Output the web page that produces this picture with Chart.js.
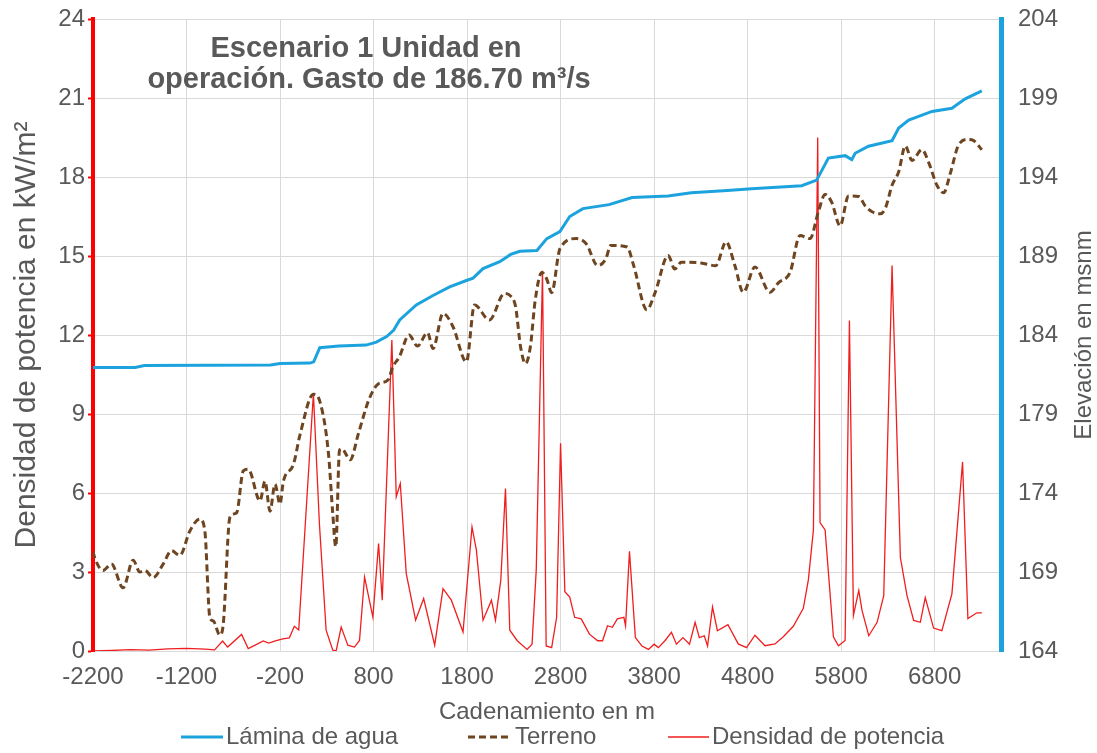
<!DOCTYPE html>
<html>
<head>
<meta charset="utf-8">
<script src="https://cdn.jsdelivr.net/npm/chart.js@4.4.1/dist/chart.umd.min.js"></script>
<style>
html,body{margin:0;padding:0;background:#ffffff;}
#wrap{width:1097px;height:753px;position:relative;}
</style>
</head>
<body>
<div id="wrap"><canvas id="c" width="1097" height="753"></canvas></div>
<script>
// ---- chart texts ----
const titleLines = ['Escenario 1 Unidad en', 'operación. Gasto de 186.70 m³/s'];
const xTitle = 'Cadenamiento en m';
const yLeftTitle = 'Densidad de potencia en kW/m²';
const yRightTitle = 'Elevación en msnm';
const seriesNames = ['Lámina de agua', 'Terreno', 'Densidad de potencia'];

// ---- tick labels ----
const xTicks = [-2200, -1200, -200, 800, 1800, 2800, 3800, 4800, 5800, 6800];
const leftTicks = [0, 3, 6, 9, 12, 15, 18, 21, 24];
const rightTicks = [164, 169, 174, 179, 184, 189, 194, 199, 204];

// ---- Lámina de agua (msnm, right axis) ----
const laminaX = [-2200,-1750,-1650,-300,-200,120,160,225,430,720,830,940,1014,1080,1257,1436,1614,1793,1864,1971,2150,2267,2364,2547,2653,2793,2898,3039,3319,3565,3951,4197,4583,4843,5379,5539,5664,5843,5914,5950,6093,6345,6416,6523,6772,6985,7127,7305];
const laminaY = [181.95,181.95,182.07,182.1,182.2,182.22,182.3,183.2,183.3,183.36,183.55,183.9,184.3,184.95,185.9,186.5,187.05,187.45,187.6,188.2,188.64,189.1,189.3,189.35,190.1,190.55,191.5,192.0,192.25,192.7,192.8,193.0,193.15,193.25,193.45,193.8,195.2,195.35,195.1,195.5,195.95,196.3,197.1,197.6,198.15,198.35,198.95,199.45];

// ---- Terreno (msnm, right axis) ----
const terrenoX = [-2200,-2182,-2093,-2003,-1878,-1771,-1700,-1646,-1557,-1450,-1361,-1271,-1164,-1057,-1004,-950,-914,-843,-807,-736,-664,-593,-539,-414,-361,-307,-254,-200,-164,-57,14,157,228,318,364,396,436,461,550,640,750,850,954,1007,1075,1180,1270,1377,1436,1543,1650,1793,1880,2040,2200,2267,2319,2372,2425,2477,2530,2600,2653,2705,2793,2968,3074,3197,3284,3337,3512,3582,3723,3811,3951,4021,4091,4302,4460,4570,4664,4754,4879,5039,5129,5254,5361,5468,5557,5629,5700,5789,5879,5989,6060,6131,6220,6274,6345,6416,6487,6558,6665,6736,6825,6896,6967,7056,7163,7216,7305];
const terrenoY = [170.3,169.9,169.1,169.5,168.0,169.75,169.0,169.1,168.65,169.5,170.35,170.05,171.6,172.35,171.6,166.1,165.9,165.0,165.7,172.45,172.75,175.4,175.5,173.5,174.75,172.85,174.55,173.3,174.75,175.8,177.7,180.25,179.75,176.5,172.7,170.6,176.7,176.8,176.1,177.8,179.9,180.9,181.15,182.0,182.6,184.0,183.3,184.15,183.15,185.37,184.52,182.3,185.9,184.95,186.63,186.46,185.8,183.26,182.19,183.26,186.25,187.96,187.53,186.68,189.46,190.1,189.78,188.39,188.82,189.67,189.57,188.39,185.6,186.68,189.03,188.18,188.6,188.56,188.39,189.9,188.4,186.7,188.3,186.7,187.3,187.96,190.3,190.1,191.8,192.9,192.4,190.9,192.8,192.76,192.15,191.8,191.67,192.03,193.48,194.33,195.97,195.05,195.73,194.93,193.48,193.0,194.21,196.02,196.38,196.31,195.73];

// ---- Densidad de potencia (kW/m², left axis) ----
const densidadX = [-2200,-2000,-1800,-1600,-1400,-1200,-1000,-900,-814,-760,-611,-540,-450,-380,-320,-250,-170,-100,-47,0,157,221,293,364,400,454,525,596,650,704,793,854,893,996,1043,1086,1150,1250,1336,1454,1543,1632,1757,1853,1900,1971,2061,2104,2161,2211,2257,2337,2442,2495,2540,2607,2646,2705,2758,2800,2846,2898,2951,3021,3109,3197,3249,3302,3354,3407,3477,3495,3537,3600,3670,3740,3800,3846,3916,3986,4039,4109,4179,4239,4284,4337,4372,4425,4477,4590,4700,4789,4879,4986,5093,5182,5289,5396,5450,5504,5550,5575,5629,5718,5771,5843,5889,5932,5989,6025,6096,6185,6256,6345,6434,6505,6576,6647,6700,6789,6878,6985,7099,7156,7252,7305];
const densidadY = [0,0.02,0.05,0.03,0.08,0.1,0.07,0.04,0.38,0.15,0.63,0.09,0.25,0.38,0.3,0.38,0.46,0.5,0.94,0.8,9.78,4.84,0.79,0.03,0.0,0.91,0.22,0.15,0.4,2.81,1.29,4.08,1.93,11.81,5.86,6.36,2.94,1.17,1.99,0.22,2.37,1.93,0.72,4.71,3.83,1.17,1.93,1.17,2.69,6.17,0.79,0.39,0.06,0.26,3.08,14.44,0.19,0.13,1.28,7.89,2.25,2.05,1.28,1.22,0.64,0.39,0.39,0.96,0.9,1.22,1.28,0.96,3.79,0.51,0.19,0.06,0.26,0.13,0.39,0.71,0.26,0.51,0.26,1.09,0.51,0.58,0.19,1.67,0.77,1.0,0.27,0.13,0.6,0.2,0.27,0.54,0.94,1.62,2.7,4.6,19.5,4.88,4.6,0.54,0.2,0.4,12.55,1.35,2.3,1.52,0.58,1.09,2.1,14.64,3.55,2.1,1.16,1.09,2.03,0.87,0.77,2.17,7.18,1.23,1.45,1.45];

// ---- styles ----
const TXT = '#595959';
const GRID = '#d9d9d9';
const BLUE = '#1ca3de';
const BROWN = '#6e4520';
const RED = '#f01e1e';
const AXRED = '#ff0000';
const FONT = '"Liberation Sans", Arial, sans-serif';

const toPts = (xs, ys) => xs.map((x, i) => ({x: x, y: ys[i]}));

const overlay = {
  id: 'overlay',
  afterDraw(chart) {
    const ctx = chart.ctx;
    const a = chart.chartArea;
    ctx.save();
    ctx.fillStyle = TXT;
    // chart title inside plot
    ctx.textAlign = 'center';
    ctx.textBaseline = 'alphabetic';
    ctx.font = 'bold 29px ' + FONT;
    ctx.fillText(titleLines[0], 366, 57);
    ctx.fillText(titleLines[1], 369, 88);
    // x axis title
    ctx.textBaseline = 'middle';
    ctx.font = '24px ' + FONT;
    ctx.fillText(xTitle, (a.left + a.right) / 2, 712);
    // left title
    ctx.save();
    ctx.translate(27, (a.top + a.bottom) / 2);
    ctx.rotate(-Math.PI / 2);
    ctx.font = '30px ' + FONT;
    ctx.fillText(yLeftTitle, 0, 0);
    ctx.restore();
    // right title
    ctx.save();
    ctx.translate(1084, (a.top + a.bottom) / 2);
    ctx.rotate(-Math.PI / 2);
    ctx.font = '24px ' + FONT;
    ctx.fillText(yRightTitle, 0, 0);
    ctx.restore();
    // legend
    const ly = 737;
    const items = [
      {x0: 181, x1: 223, tx: 226, color: BLUE, w: 3, dash: []},
      {x0: 468, x1: 512, tx: 515, color: BROWN, w: 3, dash: [7, 4]},
      {x0: 668, x1: 709, tx: 712, color: RED, w: 1.5, dash: []}
    ];
    ctx.textAlign = 'left';
    ctx.font = '24px ' + FONT;
    items.forEach((it, i) => {
      ctx.save();
      ctx.strokeStyle = it.color;
      ctx.lineWidth = it.w;
      ctx.setLineDash(it.dash);
      ctx.beginPath();
      ctx.moveTo(it.x0, ly);
      ctx.lineTo(it.x1, ly);
      ctx.stroke();
      ctx.restore();
      ctx.fillStyle = TXT;
      ctx.fillText(seriesNames[i], it.tx, ly);
    });
    ctx.restore();
  }
};

new Chart(document.getElementById('c'), {
  type: 'line',
  data: {
    datasets: [
      {
        label: seriesNames[0],
        data: toPts(laminaX, laminaY),
        yAxisID: 'y1',
        borderColor: BLUE,
        borderWidth: 3,
        pointRadius: 0,
        tension: 0,
        fill: false
      },
      {
        label: seriesNames[1],
        data: toPts(terrenoX, terrenoY),
        yAxisID: 'y1',
        borderColor: BROWN,
        borderWidth: 3,
        borderDash: [7, 4],
        pointRadius: 0,
        cubicInterpolationMode: 'monotone',
        fill: false
      },
      {
        label: seriesNames[2],
        data: toPts(densidadX, densidadY),
        yAxisID: 'y',
        borderColor: RED,
        borderWidth: 1.3,
        pointRadius: 0,
        tension: 0,
        fill: false
      }
    ]
  },
  options: {
    responsive: false,
    devicePixelRatio: 1,
    animation: false,
    layout: {padding: {top: 19, left: 0, right: 0, bottom: 0}},
    plugins: {
      legend: {display: false},
      title: {display: false},
      tooltip: {enabled: false}
    },
    scales: {
      x: {
        type: 'linear',
        min: -2200,
        max: 7510,
        afterBuildTicks: s => { s.ticks = xTicks.map(v => ({value: v})); },
        afterFit: s => { s.height = 102; s.paddingLeft = 0; s.paddingRight = 0; },
        ticks: {
          color: TXT,
          font: {family: FONT, size: 24},
          padding: 12,
          maxRotation: 0,
          autoSkip: false,
          callback: v => String(v)
        },
        grid: {color: GRID, lineWidth: 1, drawTicks: false},
        border: {display: true, color: GRID, width: 1}
      },
      y: {
        type: 'linear',
        position: 'left',
        min: 0,
        max: 24,
        afterBuildTicks: s => { s.ticks = leftTicks.map(v => ({value: v})); },
        afterFit: s => { s.width = 93; s.paddingTop = 0; s.paddingBottom = 0; },
        ticks: {
          color: TXT,
          font: {family: FONT, size: 24},
          padding: 3,
          callback: v => String(v)
        },
        grid: {color: GRID, lineWidth: 1, tickColor: AXRED, tickLength: 5, tickWidth: 2},
        border: {display: true, color: AXRED, width: 4}
      },
      y1: {
        type: 'linear',
        position: 'right',
        min: 164,
        max: 204,
        afterBuildTicks: s => { s.ticks = rightTicks.map(v => ({value: v})); },
        afterFit: s => { s.width = 96; s.paddingTop = 0; s.paddingBottom = 0; },
        ticks: {
          color: TXT,
          font: {family: FONT, size: 24},
          padding: 17,
          callback: v => String(v)
        },
        grid: {drawOnChartArea: false, drawTicks: false},
        border: {display: true, color: BLUE, width: 5}
      }
    }
  },
  plugins: [overlay]
});
</script>
</body>
</html>
